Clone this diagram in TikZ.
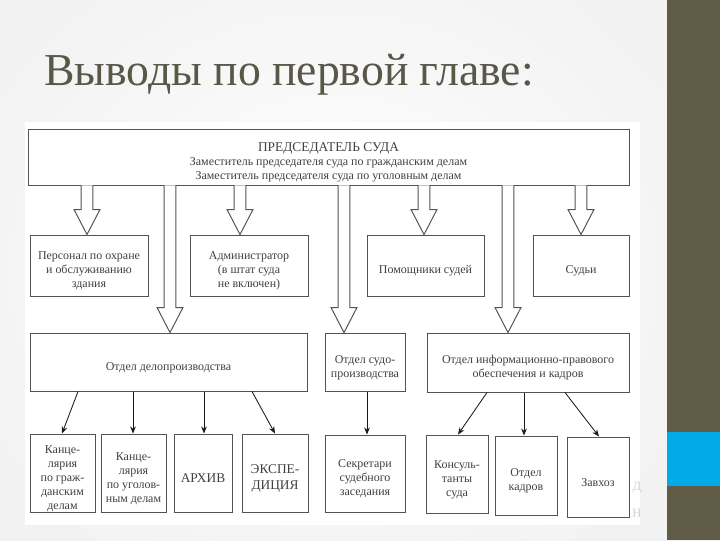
\documentclass[tikz,border=0pt]{standalone}
\usepackage{fontspec}
\setmainfont{Liberation Serif}
\usetikzlibrary{positioning,calc,arrows.meta}
\definecolor{olivebar}{RGB}{96,91,71}
\definecolor{cyanbar}{RGB}{0,170,228}
\definecolor{titlegray}{RGB}{88,87,72}
\tikzset{
  box/.style={draw=gray!65!black, line width=0.7pt, fill=white, inner sep=0pt,
    align=center, text=black!75, font=\fontsize{8.5}{10}\selectfont},
  sz/.style 2 args={minimum width=#1*0.025cm, minimum height=#2*0.025cm},
  one/.style={text height=13.5pt},
  two/.style={text height=23.5pt},
  three/.style={text height=33.5pt},
  four/.style={text height=43.5pt},
  five/.style={text height=53.5pt},
  thinarr/.style={draw=gray!20!black, line width=0.6pt, -{Stealth[length=5pt,width=4pt]}},
  hollow/.style={draw=gray!65!black, line width=0.7pt, fill=white}
}
% hollow block arrow at x=#1 from node #2 down to node #3
\newcommand{\bigarrow}[3]{%
  \draw[hollow] let \p1=(#1,0 |- #2.south), \p2=(#1,0 |- #3.north) in
    (\x1-4.25pt,\y1) -- (\x1-4.25pt,\y2+17.7pt) -- (\x1-9.2pt,\y2+17.7pt) -- (\x2,\y2)
    -- (\x1+9.2pt,\y2+17.7pt) -- (\x1+4.25pt,\y2+17.7pt) -- (\x1+4.25pt,\y1);}

\begin{document}
\begin{tikzpicture}[x=0.025cm,y=-0.025cm]
\useasboundingbox (0,0) rectangle (720,540);
% slide background
\fill[gray!10] (0,0) rectangle (667,540);
\shade[shading=radial, inner color=white, outer color=gray!10] (-60,-80) rectangle (727,620);
\fill[white] (25,122) rectangle (640,525);
\fill[olivebar] (667,0) rectangle (720,540);
\fill[cyanbar] (667,432) rectangle (720,486);
\node[anchor=base west, font=\fontsize{32.5}{36}\selectfont, text=titlegray, inner sep=0pt] (title) at (44,85) {Выводы по первой главе:};

% top
\node[box, sz={601}{56}, text height=33.8pt] (top) at (328.5,157) {{\fontsize{9.5}{10}\selectfont ПРЕДСЕДАТЕЛЬ СУДА}\\
  Заместитель председателя суда по гражданским делам\\
  Заместитель председателя суда по уголовным делам};

% second row
\node[box, sz={118}{61}, three] (per) at (89,265.5) {Персонал по охране\\ и обслуживанию\\ здания};
\node[box, sz={118}{61}, three] (adm) at (249,265.5) {Администратор\\ (в штат суда\\ не включен)};
\node[box, sz={117}{61}, one] (pom) at (425.5,265.5) {Помощники судей};
\node[box, sz={96}{61}, one] (sud) at (581,265.5) {Судьи};

% third row
\node[box, sz={277}{58}, one] (del) at (168.5,362) {Отдел делопроизводства};
\node[box, sz={80}{58}, two] (sudpr) at (365,362) {Отдел судо-\\производства};
\node[box, sz={202}{59}, two] (info) at (528,362.5) {Отдел информационно-правового\\ обеспечения и кадров};

% bottom row
\node[box, sz={65}{78}, five] (kg) at (62.5,473) {Канце-\\лярия\\ по граж-\\данским\\ делам};
\node[box, sz={65}{78}, four] (ku) at (133.5,473) {Канце-\\лярия\\ по уголов-\\ным делам};
\node[box, sz={58}{78}, font=\fontsize{9.5}{11}\selectfont, text height=14pt] (arh) at (203,473) {АРХИВ};
\node[box, sz={66}{78}, font=\fontsize{9.5}{11}\selectfont, text height=25pt] (eks) at (275,473) {ЭКСПЕ-\\ДИЦИЯ};
\node[box, sz={80}{77}, three] (sek) at (365,473.5) {Секретари\\ судебного\\ заседания};
\node[box, sz={62}{78}, three] (kon) at (457,474) {Консуль-\\танты\\ суда};
\node[box, sz={62}{79}, two] (kad) at (526,475.5) {Отдел\\ кадров};
\node[box, sz={62}{80}, one] (zav) at (598,477) {Завхоз};

% faint letters at the right edge
\node[text=gray!35, font=\fontsize{9}{10}\selectfont, inner sep=0pt] (d) at (637,488) {Д};
\node[text=gray!35, font=\fontsize{9}{10}\selectfont, inner sep=0pt] (n) at (637,513) {Н};

% block arrows
\bigarrow{87}{top}{per}
\bigarrow{170}{top}{del}
\bigarrow{240}{top}{adm}
\bigarrow{344}{top}{sudpr}
\bigarrow{424}{top}{pom}
\bigarrow{508}{top}{info}
\bigarrow{581}{top}{sud}

% thin arrows
\draw[thinarr] (del.south -| 78,0) -- (kg.north -| 62,0);
\draw[thinarr] (del.south -| 133,0) -- (ku.north -| 133,0);
\draw[thinarr] (del.south -| 204,0) -- (arh.north -| 204,0);
\draw[thinarr] (del.south -| 252,0) -- (eks.north -| 275,0);
\draw[thinarr] (sudpr.south -| 367,0) -- (sek.north -| 367,0);
\draw[thinarr] (info.south -| 487,0) -- (kon.north -| 458,0);
\draw[thinarr] (info.south -| 524,0) -- (kad.north -| 524,0);
\draw[thinarr] (info.south -| 565,0) -- (zav.north -| 599,0);
\end{tikzpicture}
\end{document}
